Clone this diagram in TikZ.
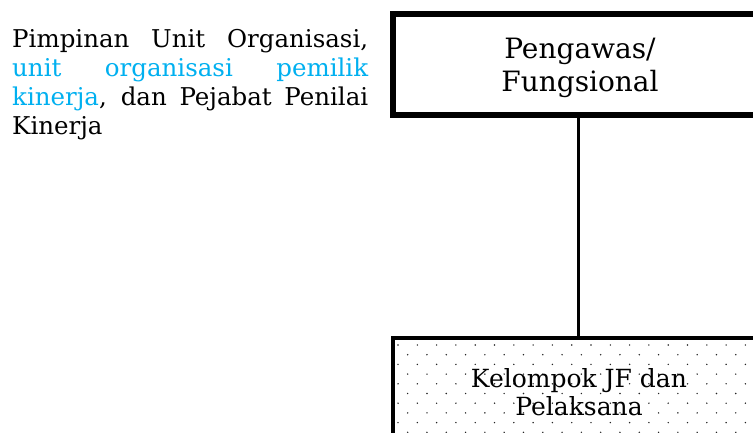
\documentclass[tikz,border=0pt]{standalone}
\usepackage{fontspec}
\setmainfont{DejaVu Serif}
\definecolor{lblue}{RGB}{0,176,240}
\begin{document}
\begin{tikzpicture}[x=1pt,y=-1pt,
  box/.style={draw=black,rectangle,minimum width=370pt,inner sep=0pt}]
\useasboundingbox (0,0) rectangle (753,433);
\clip (0,0) rectangle (753,433);
\fill[white] (0,0) rectangle (753,433);
% left paragraph
\node[anchor=north west,inner sep=0pt,text width=356pt,align=justify,
  font=\fontsize{24.5}{29}\selectfont] (para) at (12,29)
  {Pimpinan Unit Organisasi,\linebreak \textcolor{lblue}{unit organisasi pemilik}\linebreak \textcolor{lblue}{kinerja}, dan Pejabat Penilai\linebreak Kinerja};
% top box
\node[box,line width=5.5pt,minimum height=101pt] (top) at (578,64.5) {};
\node[align=center,font=\fontsize{28}{33}\selectfont] (toptext) at (580,68) {Pengawas/\\Fungsional};
% bottom box
\node[box,line width=4pt,minimum height=160pt] (bot) at (578,418) {};
\begin{scope}
\clip (395,340) rectangle (753,433);
\foreach \r in {0,...,10}{
  \pgfmathsetmacro{\yy}{345+\r*9.7}
  \pgfmathsetmacro{\off}{mod(\r,2)*9.65}
  \foreach \c in {0,...,19}{
    \fill[black!85] (398+\off+\c*19.3,\yy) circle (0.8pt);
  }
}
\end{scope}
\node[align=center,font=\fontsize{25}{28}\selectfont] (bottext) at (579,392) {Kelompok JF dan\\Pelaksana};
\draw[line width=3pt] (top.south) -- (bot.north);
\end{tikzpicture}
\end{document}
